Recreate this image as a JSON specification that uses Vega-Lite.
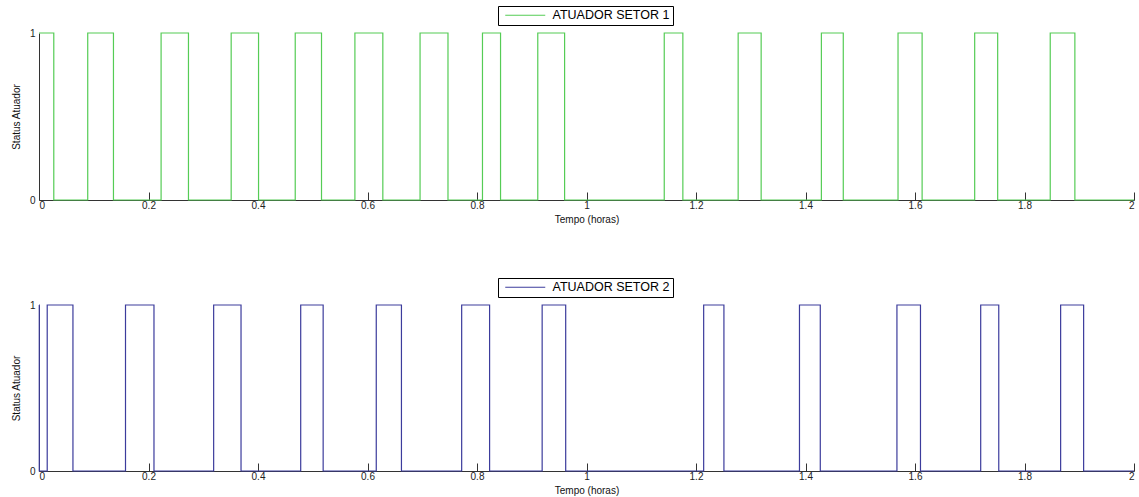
{
  "$schema": "https://vega.github.io/schema/vega-lite/v6.json",
  "padding": {"left": 11, "top": 5, "right": 0, "bottom": 2},
  "bounds": "flush",
  "spacing": 105,
  "background": "white",
  "datasets": {
    "s1": [
      {"t": 0, "v": 1, "s": "ATUADOR SETOR 1"},
      {"t": 0.027, "v": 0, "s": "ATUADOR SETOR 1"},
      {"t": 0.089, "v": 1, "s": "ATUADOR SETOR 1"},
      {"t": 0.136, "v": 0, "s": "ATUADOR SETOR 1"},
      {"t": 0.223, "v": 1, "s": "ATUADOR SETOR 1"},
      {"t": 0.273, "v": 0, "s": "ATUADOR SETOR 1"},
      {"t": 0.351, "v": 1, "s": "ATUADOR SETOR 1"},
      {"t": 0.401, "v": 0, "s": "ATUADOR SETOR 1"},
      {"t": 0.468, "v": 1, "s": "ATUADOR SETOR 1"},
      {"t": 0.516, "v": 0, "s": "ATUADOR SETOR 1"},
      {"t": 0.577, "v": 1, "s": "ATUADOR SETOR 1"},
      {"t": 0.628, "v": 0, "s": "ATUADOR SETOR 1"},
      {"t": 0.696, "v": 1, "s": "ATUADOR SETOR 1"},
      {"t": 0.747, "v": 0, "s": "ATUADOR SETOR 1"},
      {"t": 0.810, "v": 1, "s": "ATUADOR SETOR 1"},
      {"t": 0.843, "v": 0, "s": "ATUADOR SETOR 1"},
      {"t": 0.911, "v": 1, "s": "ATUADOR SETOR 1"},
      {"t": 0.960, "v": 0, "s": "ATUADOR SETOR 1"},
      {"t": 1.142, "v": 1, "s": "ATUADOR SETOR 1"},
      {"t": 1.176, "v": 0, "s": "ATUADOR SETOR 1"},
      {"t": 1.277, "v": 1, "s": "ATUADOR SETOR 1"},
      {"t": 1.319, "v": 0, "s": "ATUADOR SETOR 1"},
      {"t": 1.429, "v": 1, "s": "ATUADOR SETOR 1"},
      {"t": 1.469, "v": 0, "s": "ATUADOR SETOR 1"},
      {"t": 1.569, "v": 1, "s": "ATUADOR SETOR 1"},
      {"t": 1.613, "v": 0, "s": "ATUADOR SETOR 1"},
      {"t": 1.709, "v": 1, "s": "ATUADOR SETOR 1"},
      {"t": 1.751, "v": 0, "s": "ATUADOR SETOR 1"},
      {"t": 1.847, "v": 1, "s": "ATUADOR SETOR 1"},
      {"t": 1.892, "v": 0, "s": "ATUADOR SETOR 1"},
      {"t": 2, "v": 0, "s": "ATUADOR SETOR 1"}
    ],
    "s2": [
      {"t": 0, "v": 1, "s": "ATUADOR SETOR 2"},
      {"t": 0.0005, "v": 0, "s": "ATUADOR SETOR 2"},
      {"t": 0.015, "v": 1, "s": "ATUADOR SETOR 2"},
      {"t": 0.062, "v": 0, "s": "ATUADOR SETOR 2"},
      {"t": 0.158, "v": 1, "s": "ATUADOR SETOR 2"},
      {"t": 0.210, "v": 0, "s": "ATUADOR SETOR 2"},
      {"t": 0.319, "v": 1, "s": "ATUADOR SETOR 2"},
      {"t": 0.369, "v": 0, "s": "ATUADOR SETOR 2"},
      {"t": 0.478, "v": 1, "s": "ATUADOR SETOR 2"},
      {"t": 0.519, "v": 0, "s": "ATUADOR SETOR 2"},
      {"t": 0.616, "v": 1, "s": "ATUADOR SETOR 2"},
      {"t": 0.662, "v": 0, "s": "ATUADOR SETOR 2"},
      {"t": 0.772, "v": 1, "s": "ATUADOR SETOR 2"},
      {"t": 0.823, "v": 0, "s": "ATUADOR SETOR 2"},
      {"t": 0.919, "v": 1, "s": "ATUADOR SETOR 2"},
      {"t": 0.962, "v": 0, "s": "ATUADOR SETOR 2"},
      {"t": 1.214, "v": 1, "s": "ATUADOR SETOR 2"},
      {"t": 1.251, "v": 0, "s": "ATUADOR SETOR 2"},
      {"t": 1.389, "v": 1, "s": "ATUADOR SETOR 2"},
      {"t": 1.427, "v": 0, "s": "ATUADOR SETOR 2"},
      {"t": 1.567, "v": 1, "s": "ATUADOR SETOR 2"},
      {"t": 1.610, "v": 0, "s": "ATUADOR SETOR 2"},
      {"t": 1.720, "v": 1, "s": "ATUADOR SETOR 2"},
      {"t": 1.753, "v": 0, "s": "ATUADOR SETOR 2"},
      {"t": 1.866, "v": 1, "s": "ATUADOR SETOR 2"},
      {"t": 1.908, "v": 0, "s": "ATUADOR SETOR 2"},
      {"t": 2, "v": 0, "s": "ATUADOR SETOR 2"}
    ]
  },
  "vconcat": [
    {
      "width": 1095,
      "height": 167,
      "data": {"name": "s1"},
      "mark": {"type": "line", "interpolate": "step-after", "strokeWidth": 1.2},
      "encoding": {
        "x": {"field": "t", "type": "quantitative", "scale": {"domain": [0, 2], "nice": false, "zero": false},
              "axis": {"title": "Tempo (horas)", "values": [0, 0.2, 0.4, 0.6, 0.8, 1, 1.2, 1.4, 1.6, 1.8, 2], "format": "~g"}},
        "y": {"field": "v", "type": "quantitative", "scale": {"domain": [0, 1], "nice": false},
              "axis": {"title": "Status Atuador", "values": [0, 1], "format": "d", "ticks": false, "labelPadding": 4}},
        "color": {"field": "s", "type": "nominal", "scale": {"range": ["#55cc55"]},
                  "legend": {"orient": "none", "legendX": 459, "legendY": -27}}
      }
    },
    {
      "width": 1095,
      "height": 166,
      "data": {"name": "s2"},
      "mark": {"type": "line", "interpolate": "step-after", "strokeWidth": 1.2},
      "encoding": {
        "x": {"field": "t", "type": "quantitative", "scale": {"domain": [0, 2], "nice": false, "zero": false},
              "axis": {"title": "Tempo (horas)", "values": [0, 0.2, 0.4, 0.6, 0.8, 1, 1.2, 1.4, 1.6, 1.8, 2], "format": "~g"}},
        "y": {"field": "v", "type": "quantitative", "scale": {"domain": [0, 1], "nice": false},
              "axis": {"title": "Status Atuador", "values": [0, 1], "format": "d", "ticks": false, "labelPadding": 4}},
        "color": {"field": "s", "type": "nominal", "scale": {"range": ["#3c3c9c"]},
                  "legend": {"orient": "none", "legendX": 459, "legendY": -27}}
      }
    }
  ],
  "resolve": {"scale": {"color": "independent", "x": "independent", "y": "independent"}, "legend": {"color": "independent"}},
  "config": {
    "view": {"stroke": null},
    "axis": {
      "grid": false,
      "domainColor": "#333333",
      "tickColor": "#333333",
      "labelColor": "#222222",
      "labelFont": "Liberation Sans",
      "labelFontSize": 10,
      "titleFont": "Liberation Sans",
      "titleFontSize": 10,
      "titleFontWeight": "normal",
      "titleColor": "#111111",
      "tickSize": -8,
      "labelPadding": 8,
      "titlePadding": 4,
      "domainWidth": 1,
      "tickWidth": 1
    },
    "axisY": {"titlePadding": 8},
    "legend": {
      "title": null,
      "strokeColor": "#000000",
      "fillColor": "#ffffff",
      "padding": 3,
      "cornerRadius": 0,
      "symbolType": "M-0.4,0H7.6",
      "symbolSize": 100,
      "symbolStrokeWidth": 1.2,
      "labelOffset": 39,
      "labelFont": "Liberation Sans",
      "labelFontSize": 12.5,
      "labelColor": "#000000"
    }
  }
}
